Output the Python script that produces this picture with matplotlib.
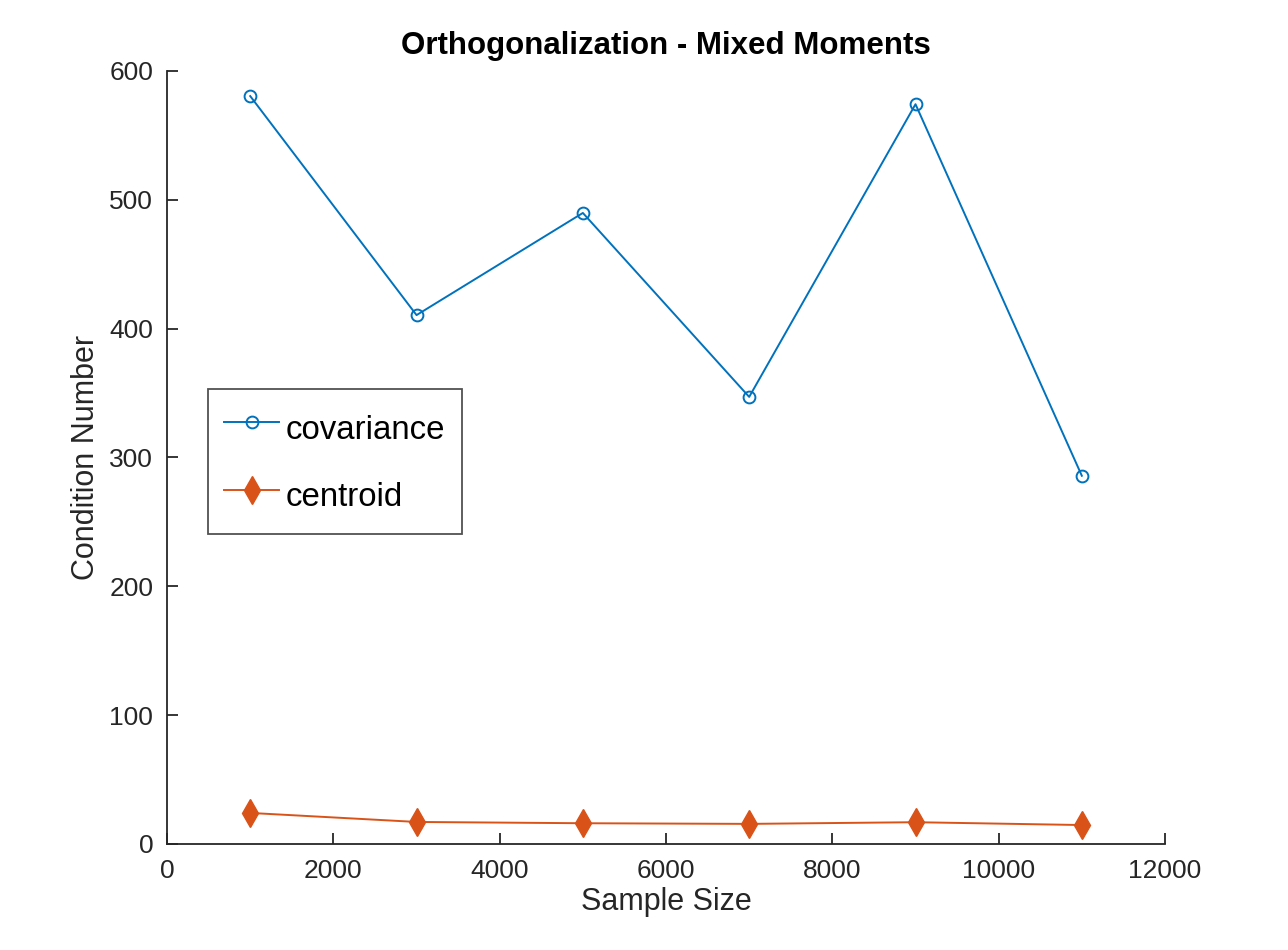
import numpy as np
import matplotlib.pyplot as plt

plt.rcParams['font.family'] = ['Liberation Sans', 'DejaVu Sans']

sample_size = [1000, 3000, 5000, 7000, 9000, 11000]
covariance = [580.5, 410.5, 489.8, 347.0, 574.2, 285.8]
centroid = [24.1, 17.1, 16.1, 15.6, 16.9, 14.7]

blue = '#0072BD'
orange = '#D95319'
dark = '#262626'

fig = plt.figure(figsize=(12.88, 9.5), dpi=100)
ax = fig.add_axes([0.1297, 0.1116, 0.7748, 0.8137])

ax.plot(sample_size, covariance, color=blue, marker='o', markersize=8.5,
        markerfacecolor='none', markeredgewidth=1.4, linewidth=1.4, label='covariance')
ax.plot(sample_size, centroid, color=orange, marker='d', markersize=14,
        markerfacecolor=orange, markeredgewidth=1.0, linewidth=1.4, label='centroid')

ax.set_xlim(0, 12000)
ax.set_ylim(0, 600)
ax.set_xticks(np.arange(0, 12001, 2000))
ax.set_yticks(np.arange(0, 601, 100))
for s in ['top', 'right']:
    ax.spines[s].set_visible(False)
for s in ['left', 'bottom']:
    ax.spines[s].set_color(dark)
    ax.spines[s].set_linewidth(1.3)
ax.tick_params(direction='in', length=8, width=1.3, colors=dark, labelsize=19)
ax.tick_params(axis='x', pad=11)
ax.tick_params(axis='y', pad=10)

ax.set_xlabel('Sample Size', fontsize=22, color=dark, labelpad=3)
ax.set_ylabel('Condition Number', fontsize=22, color=dark, labelpad=6)
ax.set_title('Orthogonalization - Mixed Moments', fontsize=22.5, fontweight='bold', pad=12)

leg = ax.legend(loc='upper left', bbox_to_anchor=(0.041, 0.5886), fontsize=23.8,
                frameon=True, fancybox=False, edgecolor=dark, handlelength=1.65,
                handleheight=1.7, handletextpad=0.2, labelspacing=0.7,
                borderpad=0.5, borderaxespad=0)
leg.get_frame().set_linewidth(1.3)

plt.savefig('out.png', dpi=100)
plt.close()
